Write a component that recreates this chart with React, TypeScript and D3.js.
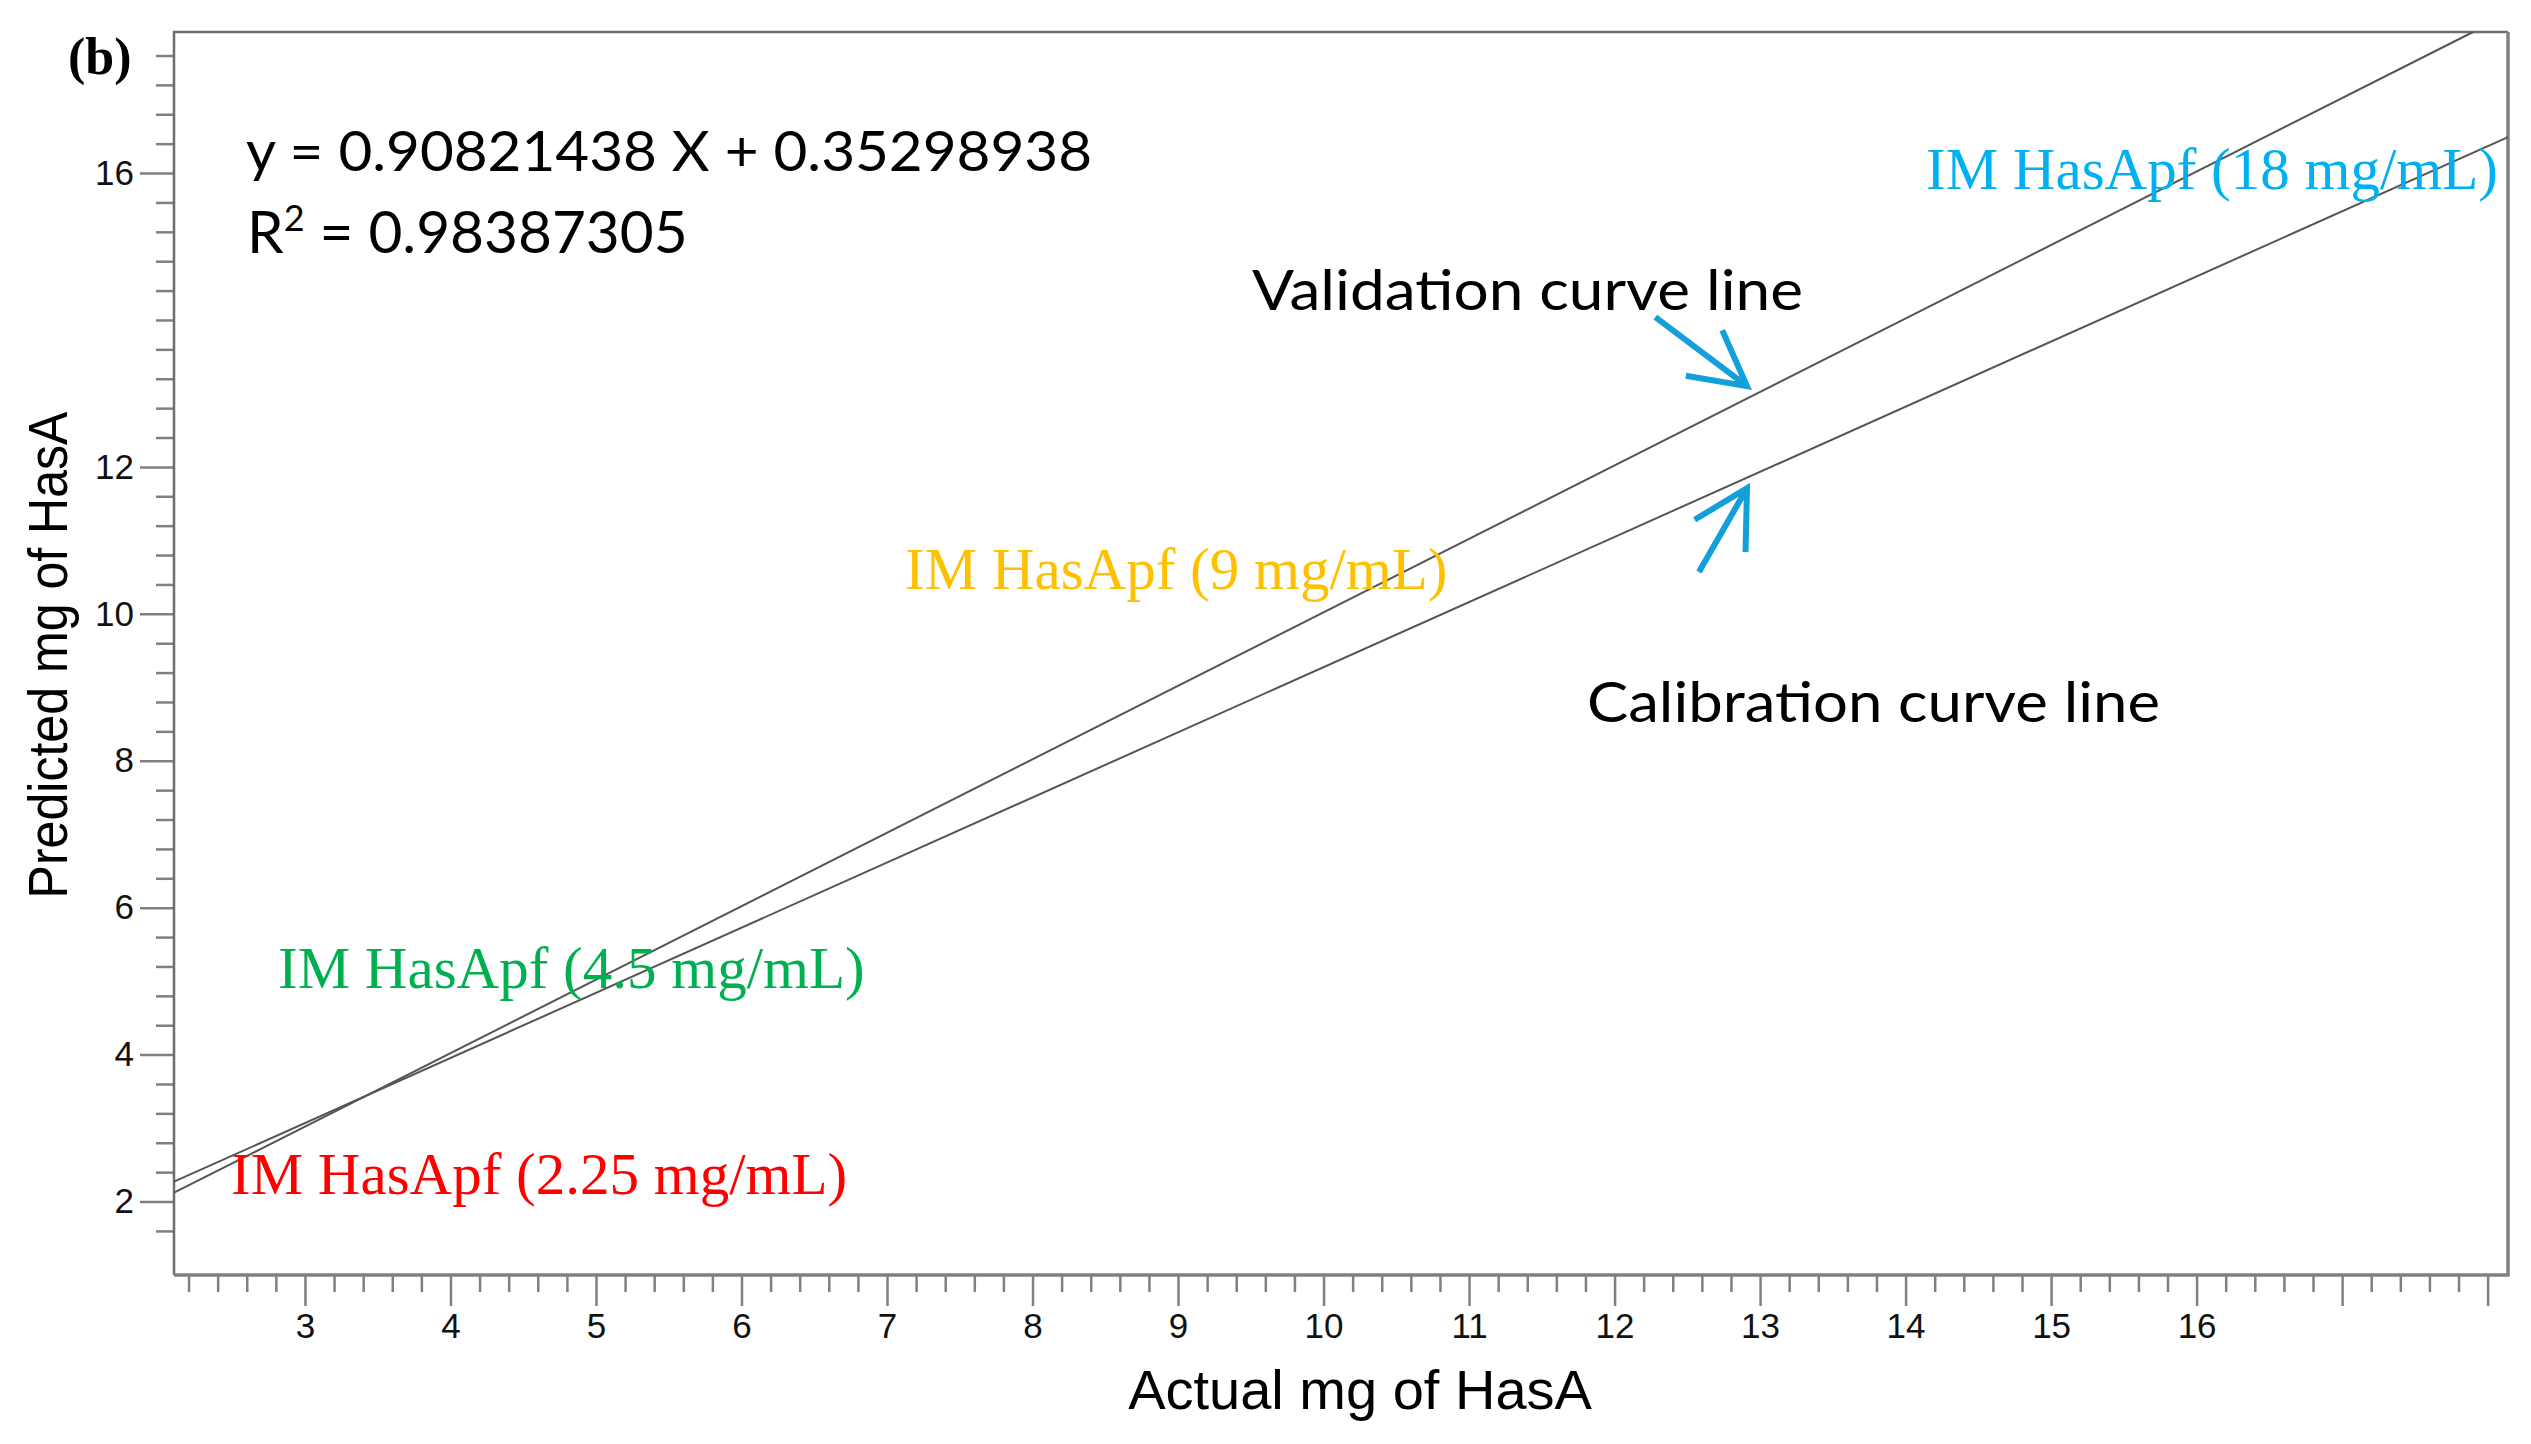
import { useEffect, useRef } from "react";
import * as d3 from "d3";

// axis ranges
const xDomain = [2.1, 18.14];
const yDomain = [1.0, 17.92];
const xMajorTicks = [3, 4, 5, 6, 7, 8, 9, 10, 11, 12, 13, 14, 15, 16, 17, 18];
const xTickLabels = [3, 4, 5, 6, 7, 8, 9, 10, 11, 12, 13, 14, 15, 16];
const yTickLabels = [2, 4, 6, 8, 10, 12, 16];

// the two straight lines, as read at the frame edges
const validationX = [2.1, 17.9];
const validationY = [2.12, 17.92];
const calibrationX = [2.1, 18.14];
const calibrationY = [2.27, 16.49];

const equation = "y = 0.90821438 X + 0.35298938";
const r2Value = "0.98387305";

const sampleLabels = [
  "IM HasApf (18 mg/mL)",
  "IM HasApf (9 mg/mL)",
  "IM HasApf (4.5 mg/mL)",
  "IM HasApf (2.25 mg/mL)",
];
const sampleColors = ["#00b0f0", "#ffc000", "#00b050", "#ff0000"];
const sampleLeft = [1926, 905, 278, 231];
const sampleBaseline = [189, 589, 988, 1194];

const App = () => {
  const svgRef = useRef<HTMLDivElement | null>(null);

  function chartRender(svg: any) {
    const width = 2531;
    const height = 1444;
    const left = 174;
    const right = 2508;
    const top = 32;
    const bottom = 1275;
    const axisColor = "#808080";
    const sans = "'Liberation Sans', Arial, sans-serif";
    const serif = "'Liberation Serif', 'Times New Roman', serif";
    const calibri = "Lato, 'Open Sans', sans-serif";

    svg.attr("width", width).attr("height", height).style("display", "block");
    svg.append("rect").attr("width", width).attr("height", height).attr("fill", "#fff");

    const xscale = d3.scaleLinear().domain(xDomain).range([left, right]);
    const yscale = d3.scaleLinear().domain(yDomain).range([bottom, top]);

    const near = (a: number, list: number[]) => list.some((b) => Math.abs(a - b) < 1e-6);
    const xMinor = d3
      .range(11, 91)
      .map((i) => +(i * 0.2).toFixed(2))
      .filter((v) => !near(v, xMajorTicks));
    const yMinor = d3
      .range(4, 45)
      .map((i) => +(i * 0.4).toFixed(2))
      .filter((v) => !near(v, yTickLabels));

    const styleAxis = (g: any) => {
      g.select(".domain").remove();
      g.selectAll(".tick line").attr("stroke", axisColor).attr("stroke-width", 2.5);
      g.selectAll(".tick text")
        .attr("fill", "#111")
        .style("font-family", sans)
        .style("font-size", "35px");
    };

    // x minor + major ticks
    svg
      .append("g")
      .attr("transform", `translate(0, ${bottom})`)
      .call(d3.axisBottom(xscale).tickValues(xMinor).tickSize(17).tickFormat(() => ""))
      .call(styleAxis);
    svg
      .append("g")
      .attr("transform", `translate(0, ${bottom})`)
      .call(
        d3
          .axisBottom(xscale)
          .tickValues(xMajorTicks)
          .tickSize(31)
          .tickPadding(7)
          .tickFormat((d: any) => (xTickLabels.includes(d) ? String(d) : ""))
      )
      .call(styleAxis);

    // y minor + major ticks
    svg
      .append("g")
      .attr("transform", `translate(${left}, 0)`)
      .call(d3.axisLeft(yscale).tickValues(yMinor).tickSize(18).tickFormat(() => ""))
      .call(styleAxis);
    svg
      .append("g")
      .attr("transform", `translate(${left}, 0)`)
      .call(d3.axisLeft(yscale).tickValues(yTickLabels).tickSize(34).tickPadding(6))
      .call(styleAxis);

    // frame
    svg
      .append("path")
      .attr("d", `M${left},${bottom}V${top}H${right}`)
      .attr("fill", "none")
      .attr("stroke", "#6e6e6e")
      .attr("stroke-width", 2.5);
    svg
      .append("path")
      .attr("d", `M${left},${bottom}H${right}V${top}`)
      .attr("fill", "none")
      .attr("stroke", axisColor)
      .attr("stroke-width", 3.5);

    // lines
    const drawLine = (xs: number[], ys: number[]) => {
      svg
        .append("path")
        .datum(xs.map((x, i) => [x, ys[i]]))
        .attr("d", d3.line().x((d: any) => xscale(d[0])).y((d: any) => yscale(d[1])))
        .attr("fill", "none")
        .attr("stroke", "#555")
        .attr("stroke-width", 2);
    };
    drawLine(validationX, validationY);
    drawLine(calibrationX, calibrationY);

    // sample labels
    sampleLabels.forEach((label, i) => {
      svg
        .append("text")
        .attr("x", sampleLeft[i])
        .attr("y", sampleBaseline[i])
        .attr("fill", sampleColors[i])
        .style("font-family", serif)
        .style("font-size", "59px")
        .text(label);
    });

    // equation
    svg
      .append("text")
      .attr("x", 246)
      .attr("y", 171)
      .attr("textLength", 846)
      .attr("lengthAdjust", "spacingAndGlyphs")
      .style("font-family", calibri)
      .style("font-size", "57px")
      .text(equation);
    const r2 = svg
      .append("text")
      .attr("x", 247)
      .attr("y", 253)
      .style("font-family", calibri)
      .style("font-size", "58.5px");
    r2.append("tspan").text("R");
    r2.append("tspan").attr("dy", -22).style("font-size", "36px").text("2");
    r2.append("tspan").attr("dy", 22).text(` = ${r2Value}`);

    // curve annotations
    svg
      .append("text")
      .attr("x", 1252)
      .attr("y", 310)
      .attr("textLength", 551)
      .attr("lengthAdjust", "spacingAndGlyphs")
      .style("font-family", calibri)
      .style("font-size", "57px")
      .text("Validation curve line");
    svg
      .append("text")
      .attr("x", 1587)
      .attr("y", 722)
      .attr("textLength", 573)
      .attr("lengthAdjust", "spacingAndGlyphs")
      .style("font-family", calibri)
      .style("font-size", "57px")
      .text("Calibration curve line");

    // arrows, in data units
    const arrowBlue = "#139fda";
    const arrows = [
      { tail: [12.28, 14.04], tip: [12.91, 13.1], a: [12.49, 13.24], b: [12.74, 13.86] },
      { tail: [12.58, 10.57], tip: [12.91, 11.71], a: [12.55, 11.28], b: [12.9, 10.84] },
    ];
    arrows.forEach((ar) => {
      const p = (q: number[]) => `${xscale(q[0])},${yscale(q[1])}`;
      svg
        .append("path")
        .attr("d", `M${p(ar.tail)}L${p(ar.tip)}M${p(ar.a)}L${p(ar.tip)}L${p(ar.b)}`)
        .attr("fill", "none")
        .attr("stroke", arrowBlue)
        .attr("stroke-width", 6)
        .attr("stroke-linejoin", "miter");
    });

    // panel letter
    svg
      .append("text")
      .attr("x", 68)
      .attr("y", 74)
      .style("font-family", serif)
      .style("font-weight", "bold")
      .style("font-size", "52px")
      .text("(b)");

    // axis titles
    svg
      .append("text")
      .attr("x", 1360)
      .attr("y", 1409)
      .attr("text-anchor", "middle")
      .style("font-family", sans)
      .style("font-size", "56px")
      .text("Actual mg of HasA");
    svg
      .append("text")
      .attr("transform", `translate(67, 655) rotate(-90)`)
      .attr("text-anchor", "middle")
      .attr("textLength", 487)
      .attr("lengthAdjust", "spacingAndGlyphs")
      .style("font-family", sans)
      .style("font-size", "56px")
      .text("Predicted mg of HasA");
  }

  useEffect(() => {
    document.body.style.margin = "0";
    if (svgRef.current) {
      const svg = d3.select(svgRef.current).append("svg");
      chartRender(svg);

      return () => {
        svg.remove();
      };
    }
  }, []);

  return <div ref={svgRef}></div>;
};

export default App;
